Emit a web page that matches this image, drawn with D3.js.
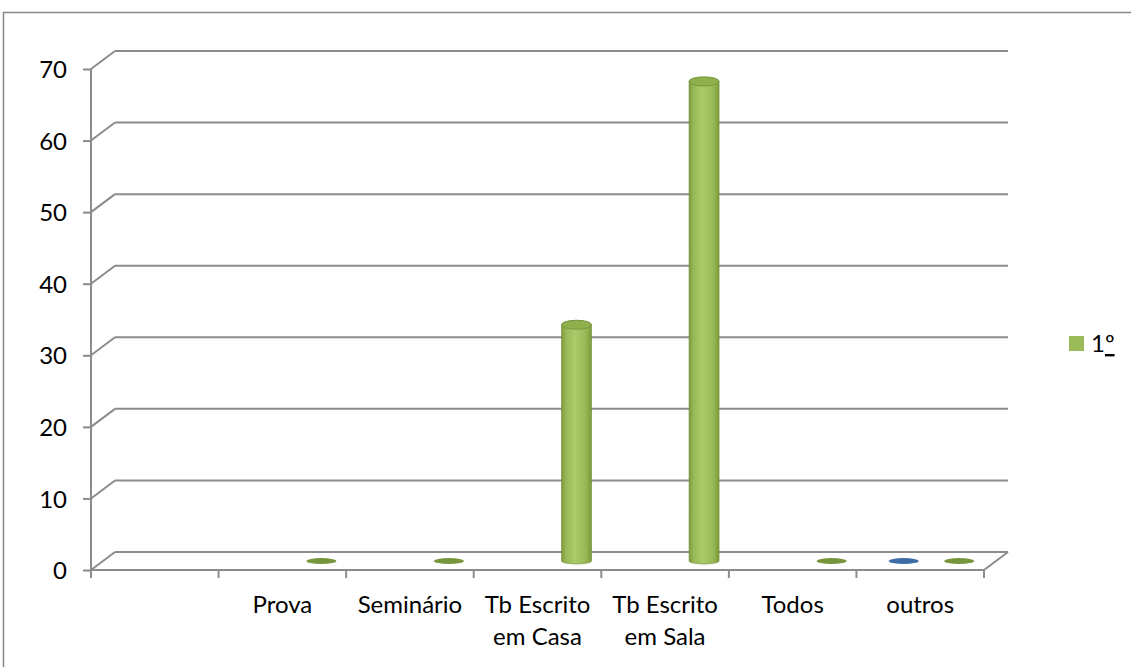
<!DOCTYPE html>
<html>
<head>
<meta charset="utf-8">
<script src="https://cdn.jsdelivr.net/npm/d3@7"></script>
<style>
  html, body { margin: 0; padding: 0; background: #fff; }
  svg { display: block; }
  text { font-family: Lato, "Open Sans", sans-serif; fill: #000; }
</style>
</head>
<body>
<svg id="chart" width="1131" height="667"></svg>
<script>
// Categories (the first one has no label)
const categories = ["", "Prova", "Seminário", "Tb Escrito em Casa", "Tb Escrito em Sala", "Todos", "outros"];
// Unnamed series (only one value present)
const seriesBlue = [null, null, null, null, null, null, 0];
// Series "1º"
const seriesGreen = [null, 0, 0, 33, 67, 0, 0];
const seriesGreenName = ["1", "º"];
const yTicks = [0, 10, 20, 30, 40, 50, 60, 70];

const svg = d3.select("#chart");
const W = 1131, H = 667;
const FONT = 24;

// chart-area frame
svg.append("rect")
  .attr("x", 3.5).attr("y", 12.5)
  .attr("width", W + 10).attr("height", H + 10)
  .attr("fill", "#fff").attr("stroke", "#868686").attr("stroke-width", 1.5);

const x = d3.scaleBand().domain(d3.range(categories.length)).range([91, 984]);
const y = d3.scaleLinear().domain([0, 70]).range([570, 69]);

// depth of the 3D box
const DX = 24, DY = -18;
const gridColor = "#8c8c8c";

const grid = svg.append("g").attr("fill", "none").attr("stroke", gridColor).attr("stroke-width", 2);

// back wall gridlines and left-wall diagonals
yTicks.forEach(v => {
  grid.append("line")
    .attr("x1", x.range()[0] + DX).attr("x2", x.range()[1] + DX)
    .attr("y1", y(v) + DY).attr("y2", y(v) + DY);
  grid.append("line")
    .attr("x1", x.range()[0]).attr("y1", y(v))
    .attr("x2", x.range()[0] + DX).attr("y2", y(v) + DY);
});
// floor: front edge and right diagonal
grid.append("line")
  .attr("x1", x.range()[0]).attr("x2", x.range()[1])
  .attr("y1", y(0)).attr("y2", y(0));
grid.append("line")
  .attr("x1", x.range()[1]).attr("y1", y(0))
  .attr("x2", x.range()[1] + DX).attr("y2", y(0) + DY);

// y axis
const yAxis = svg.append("g")
  .attr("transform", `translate(${x.range()[0]},0)`)
  .call(d3.axisLeft(y).tickValues(yTicks).tickSize(8).tickPadding(16).tickFormat(d3.format("d")));
yAxis.select(".domain").attr("stroke", gridColor).attr("stroke-width", 2).attr("d", `M0,${y(0)}V${y(70)}`);
yAxis.selectAll(".tick line").attr("stroke", gridColor).attr("stroke-width", 2);
yAxis.selectAll(".tick text").attr("font-size", FONT).attr("font-family", "Lato, sans-serif").attr("fill", "#000").attr("dy", "0.36em");

// x axis with ticks at category boundaries
const bounds = d3.range(categories.length + 1).map(i => x.range()[0] + i * x.step());
svg.append("g").selectAll("line").data(bounds).join("line")
  .attr("x1", d => d).attr("x2", d => d)
  .attr("y1", y(0)).attr("y2", y(0) + 8)
  .attr("stroke", gridColor).attr("stroke-width", 2);

// category labels, wrapped to the category width
const labels = svg.append("g").attr("font-size", FONT).attr("text-anchor", "middle");
categories.forEach((c, i) => {
  const cx = x(i) + x.bandwidth() / 2;
  const t = labels.append("text").attr("x", cx).attr("y", 613);
  const words = c.split(" ").filter(w => w);
  let line = [];
  let ts = t.append("tspan").attr("x", cx).attr("dy", 0);
  words.forEach(w => {
    line.push(w);
    ts.text(line.join(" "));
    if (ts.node().getComputedTextLength() > 120 && line.length > 1) {
      line.pop();
      ts.text(line.join(" "));
      line = [w];
      ts = t.append("tspan").attr("x", cx).attr("dy", 32).text(w);
    }
  });
});

// gradients for the cylinders
const defs = svg.append("defs");
function cylGradient(id, dark, mid, light) {
  const g = defs.append("linearGradient").attr("id", id).attr("x1", "0").attr("x2", "1").attr("y1", "0").attr("y2", "0");
  g.append("stop").attr("offset", "0%").attr("stop-color", dark);
  g.append("stop").attr("offset", "15%").attr("stop-color", mid);
  g.append("stop").attr("offset", "45%").attr("stop-color", light);
  g.append("stop").attr("offset", "80%").attr("stop-color", mid);
  g.append("stop").attr("offset", "100%").attr("stop-color", dark);
}
cylGradient("gGreen", "#7c9a3c", "#98b957", "#acca6a");
cylGradient("gBlue", "#3b679c", "#4f81bd", "#6590c8");

// bars: cylinders at mid depth, offset within the category
const R = 15;
const series = [
  { values: seriesBlue, offset: -28.5, grad: "gBlue", disk: "#3e6ca4", cap: "#4a79b2" },
  { values: seriesGreen, offset: 27, grad: "gGreen", disk: "#77963c", cap: "#8fb04c" }
];
const bars = svg.append("g");
series.forEach(s => {
  s.values.forEach((v, i) => {
    if (v === null) return;
    const cx = x(i) + x.bandwidth() / 2 + s.offset + DX / 2;
    const yb = y(0) + DY / 2;
    const yt = y(v) + DY / 2;
    if (v === 0) {
      bars.append("ellipse").attr("cx", cx).attr("cy", yb).attr("rx", R).attr("ry", 3).attr("fill", s.disk);
      return;
    }
    const ryB = 3, ryT = 4.5;
    bars.append("path")
      .attr("d", `M${cx - R},${yt}L${cx - R},${yb}A${R},${ryB} 0 0 0 ${cx + R},${yb}L${cx + R},${yt}A${R},${ryT} 0 0 0 ${cx - R},${yt}Z`)
      .attr("fill", `url(#${s.grad})`)
      .attr("stroke", "#6f8b35").attr("stroke-width", 0.6);
    bars.append("ellipse").attr("cx", cx).attr("cy", yt).attr("rx", R).attr("ry", ryT)
      .attr("fill", s.cap).attr("stroke", "#728f38").attr("stroke-width", 0.8);
  });
});

// legend
const legend = svg.append("g");
legend.append("rect").attr("x", 1069).attr("y", 336).attr("width", 15).attr("height", 15).attr("fill", "#9bbb59");
const lt = legend.append("text").attr("x", 1091).attr("y", 352).attr("font-size", FONT);
lt.append("tspan").text(seriesGreenName[0]);
lt.append("tspan").attr("text-decoration", "underline").text(seriesGreenName[1]);
</script>
</body>
</html>
